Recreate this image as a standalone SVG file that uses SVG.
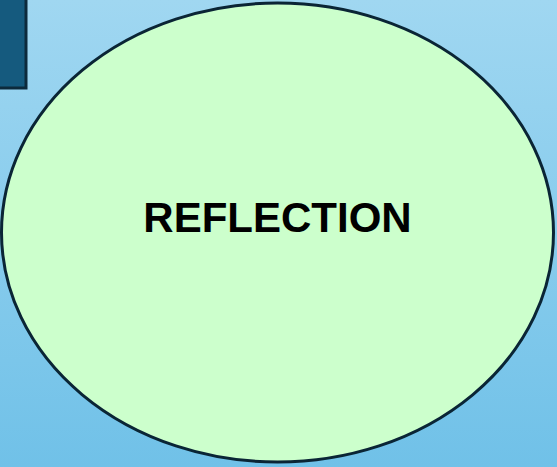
<svg xmlns="http://www.w3.org/2000/svg" width="557" height="467" viewBox="0 0 557 467">
<defs>
<linearGradient id="bg" x1="0" y1="0" x2="0" y2="1">
<stop offset="0" stop-color="#a0d7f1"/>
<stop offset="1" stop-color="#70c1e8"/>
</linearGradient>
<style>
.lbl{font-family:"Liberation Sans",Arial,sans-serif;font-weight:bold;font-size:42px;fill:#000;}
</style>
</defs>
<rect x="0" y="0" width="557" height="467" fill="url(#bg)"/>
<g id="corner-box">
<rect x="-10" y="-10" width="36" height="98" fill="#155a7e" stroke="#0c2a3c" stroke-width="3"/>
</g>
<g id="reflection">
<ellipse cx="277.5" cy="232.5" rx="276" ry="229.5" fill="#ccffcc" stroke="#0a2535" stroke-width="3"/>
<text class="lbl" x="277.5" y="232" text-anchor="middle">REFLECTION</text>
</g>
<g id="connectors"/>
</svg>
